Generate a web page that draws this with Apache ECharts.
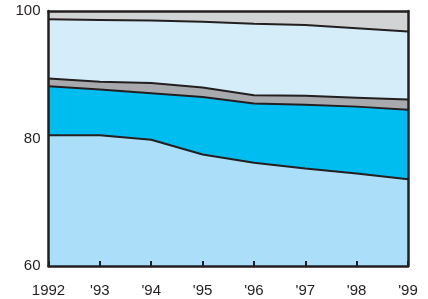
<!DOCTYPE html>
<html>
<head>
<meta charset="utf-8">
<script src="https://cdn.jsdelivr.net/npm/echarts@6/dist/echarts.min.js"></script>
<style>
  html, body { margin: 0; padding: 0; background: #fff; }
  #chart { width: 428px; height: 299px; }
</style>
</head>
<body>
<div id="chart"></div>
<script>
var years = ['1992', "'93", "'94", "'95", "'96", "'97", "'98", "'99"];
// stacked layer shares (percent), bottom to top
var layer1 = [80.5, 80.5, 79.8, 77.5, 76.2, 75.3, 74.5, 73.6];
var layer2 = [7.7, 7.2, 7.3, 9.0, 9.3, 10.0, 10.5, 10.9];
var layer3 = [1.2, 1.2, 1.6, 1.5, 1.3, 1.4, 1.4, 1.6];
var layer4 = [9.3, 9.7, 9.8, 10.3, 11.2, 11.1, 10.9, 10.7];
var layer5 = [1.3, 1.4, 1.5, 1.7, 2.0, 2.2, 2.7, 3.2];
var yTicks = [60, 80, 100];

var layers = [layer1, layer2, layer3, layer4, layer5];
var colors = ['#abdff9', '#00bdf0', '#a7a9ac', '#d5ecf9', '#d1d3d4'];
var ink = '#231f20';
var font = 'Liberation Sans, Arial';

var chart = echarts.init(document.getElementById('chart'));

var series = layers.map(function (d, i) {
  return {
    type: 'line',
    stack: 'all',
    data: d,
    symbol: 'none',
    lineStyle: { color: ink, width: i == 4 ? 0 : 2 },
    areaStyle: { color: colors[i], opacity: 1 },
    z: 2
  };
});

var option = {
  animation: false,
  grid: { left: 48.5, right: 20, top: 11, bottom: 33 },
  xAxis: [{
    type: 'category',
    data: years,
    boundaryGap: false,
    axisLine: { lineStyle: { color: ink, width: 2.5 } },
    axisTick: { inside: true, length: 5, lineStyle: { color: ink, width: 2 } },
    axisLabel: { color: ink, fontSize: 15, fontFamily: font, margin: 17 },
    splitLine: { show: false },
    z: 5
  }, {
    // top edge of the frame
    type: 'category',
    data: years,
    position: 'top',
    boundaryGap: false,
    axisLine: { lineStyle: { color: ink, width: 2.5 } },
    axisTick: { show: false },
    axisLabel: { show: false },
    z: 5
  }],
  yAxis: [{
    type: 'value',
    min: yTicks[0],
    max: yTicks[yTicks.length - 1],
    interval: 20,
    axisLine: { show: true, lineStyle: { color: ink, width: 2.5 } },
    axisTick: { show: false },
    axisLabel: { color: ink, fontSize: 15, fontFamily: font, margin: 8 },
    splitLine: { show: false },
    z: 5
  }, {
    // right edge of the frame
    type: 'value',
    position: 'right',
    min: yTicks[0],
    max: yTicks[yTicks.length - 1],
    interval: 20,
    axisLine: { show: true, lineStyle: { color: ink, width: 2.5 } },
    axisTick: { show: false },
    axisLabel: { show: false },
    splitLine: { show: false },
    z: 5
  }],
  series: series
};

chart.setOption(option);
</script>
</body>
</html>
